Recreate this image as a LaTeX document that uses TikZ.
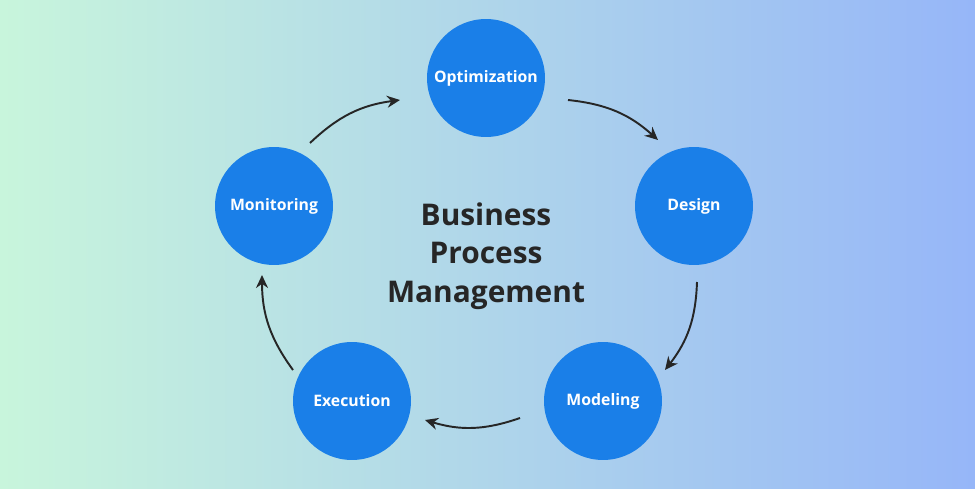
\documentclass[tikz,border=0pt]{standalone}
\usepackage{fontspec}
\setmainfont{Open Sans}
\usetikzlibrary{arrows.meta}
\definecolor{bpmblue}{HTML}{1A7FE8}
\definecolor{bgleft}{HTML}{C8F5DC}
\definecolor{bgright}{HTML}{96B6F8}
\tikzset{
  stage/.style={circle,fill=bpmblue,minimum size=2.36cm,inner sep=0pt,text=white,font=\bfseries\fontsize{9}{10}\selectfont},
  flow/.style={-{Stealth[length=2.6mm,width=2.4mm]},line width=1.1pt,draw=black!85}
}
\begin{document}
\begin{tikzpicture}[x=0.02cm,y=0.02cm]
\shade[left color=bgleft,right color=bgright] (0,0) rectangle (975,488);
\useasboundingbox (0,0) rectangle (975,488);
\node[stage] (opt) at (486,410) {Optimization};
\node[stage] (des) at (694,282) {Design};
\node[stage] (mod) at (603,87) {Modeling};
\node[stage] (exe) at (352,87) {Execution};
\node[stage] (mon) at (274,282) {Monitoring};
\node[align=center,font=\fontsize{17}{22}\selectfont\bfseries,text=black!85] (title) at (486,232) {Business\\Process\\Management};
\coordinate (a1) at (310,345); \coordinate (b1) at (400,388);
\coordinate (a2) at (568,388); \coordinate (b2) at (658,348);
\coordinate (a3) at (697,206); \coordinate (b3) at (665,118);
\coordinate (a4) at (520,70);  \coordinate (b4) at (425,68);
\coordinate (a5) at (293,118); \coordinate (b5) at (262,213);
\draw[flow] (a1) to[bend left=18] (b1);
\draw[flow] (a2) to[bend left=18] (b2);
\draw[flow] (a3) to[bend left=18] (b3);
\draw[flow] (a4) to[bend left=18] (b4);
\draw[flow] (a5) to[bend left=18] (b5);
\end{tikzpicture}
\end{document}
